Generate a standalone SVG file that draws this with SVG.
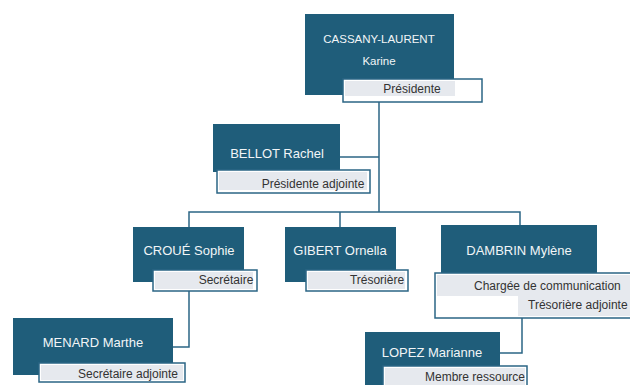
<svg xmlns="http://www.w3.org/2000/svg" width="630" height="385" viewBox="0 0 630 385">
<style>
.box{fill:#1f5d7a}
.lbl{fill:#ffffff;stroke:#2b6585;stroke-width:1.5}
.gr{fill:#e6e9ee}
.name{font-family:"Liberation Sans",Arial,sans-serif;font-size:13px;fill:#f2f5f7;text-anchor:middle}
.role{font-family:"Liberation Sans",Arial,sans-serif;font-size:12px;fill:#333333;text-anchor:middle}
.conn{fill:none;stroke:#2b6585;stroke-width:1.5}
</style>
<rect width="630" height="385" fill="#ffffff"/>
<g id="connectors">
<path class="conn" d="M379 102 V212"/>
<path class="conn" d="M340 157 H379"/>
<path class="conn" d="M189 227 V212 H520 V225"/>
<path class="conn" d="M340 212 V227"/>
<path class="conn" d="M189 291 V347 H173"/>
<path class="conn" d="M522 318 V353 H500"/>
</g>
<g id="node-cassany">
<rect class="box" x="305" y="14" width="149" height="81"/>
<rect class="lbl" x="343" y="79" width="139" height="23"/>
<rect class="gr" x="345" y="81" width="110" height="15"/>
<text class="name" x="379" y="43" style="font-size:11.5px">CASSANY-LAURENT</text>
<text class="name" x="379" y="65" style="font-size:11.5px">Karine</text>
<text class="role" x="412" y="93">Présidente</text>
</g>
<g id="node-bellot">
<rect class="box" x="213" y="124" width="127" height="48"/>
<rect class="lbl" x="217" y="170" width="153" height="23"/>
<rect class="gr" x="219" y="172" width="148" height="18"/>
<text class="name" x="277" y="158">BELLOT Rachel</text>
<text class="role" x="313" y="188">Présidente adjointe</text>
</g>
<g id="node-croue">
<rect class="box" x="133" y="227" width="111" height="55"/>
<rect class="lbl" x="153" y="270" width="104" height="21"/>
<rect class="gr" x="155" y="272" width="98" height="17"/>
<text class="name" x="189" y="255">CROUÉ Sophie</text>
<text class="role" x="226" y="284">Secrétaire</text>
</g>
<g id="node-gibert">
<rect class="box" x="285" y="227" width="111" height="55"/>
<rect class="lbl" x="306" y="270" width="102" height="21"/>
<rect class="gr" x="308" y="272" width="97" height="17"/>
<text class="name" x="340" y="255">GIBERT Ornella</text>
<text class="role" x="377" y="284">Trésorière</text>
</g>
<g id="node-dambrin">
<rect class="box" x="441" y="225" width="156" height="50"/>
<rect class="lbl" x="435" y="273" width="210" height="45"/>
<rect class="gr" x="437" y="275" width="200" height="41"/>
<rect x="437" y="296" width="81" height="20" fill="#ffffff"/>
<text class="name" x="519" y="255">DAMBRIN Mylène</text>
<text class="role" x="474" y="290" style="text-anchor:start">Chargée de communication</text>
<text class="role" x="528" y="309" style="text-anchor:start">Trésorière adjointe</text>
</g>
<g id="node-menard">
<rect class="box" x="13" y="318" width="160" height="57"/>
<rect class="lbl" x="39" y="363" width="146" height="19"/>
<rect class="gr" x="41" y="365" width="142" height="15"/>
<text class="name" x="93" y="347">MENARD Marthe</text>
<text class="role" x="128" y="378">Secrétaire adjointe</text>
</g>
<g id="node-lopez">
<rect class="box" x="365" y="332" width="135" height="53"/>
<rect class="lbl" x="383" y="366" width="144" height="22"/>
<rect class="gr" x="385" y="368" width="140" height="17"/>
<text class="name" x="432" y="357">LOPEZ Marianne</text>
<text class="role" x="475" y="381">Membre ressource</text>
</g>
</svg>
